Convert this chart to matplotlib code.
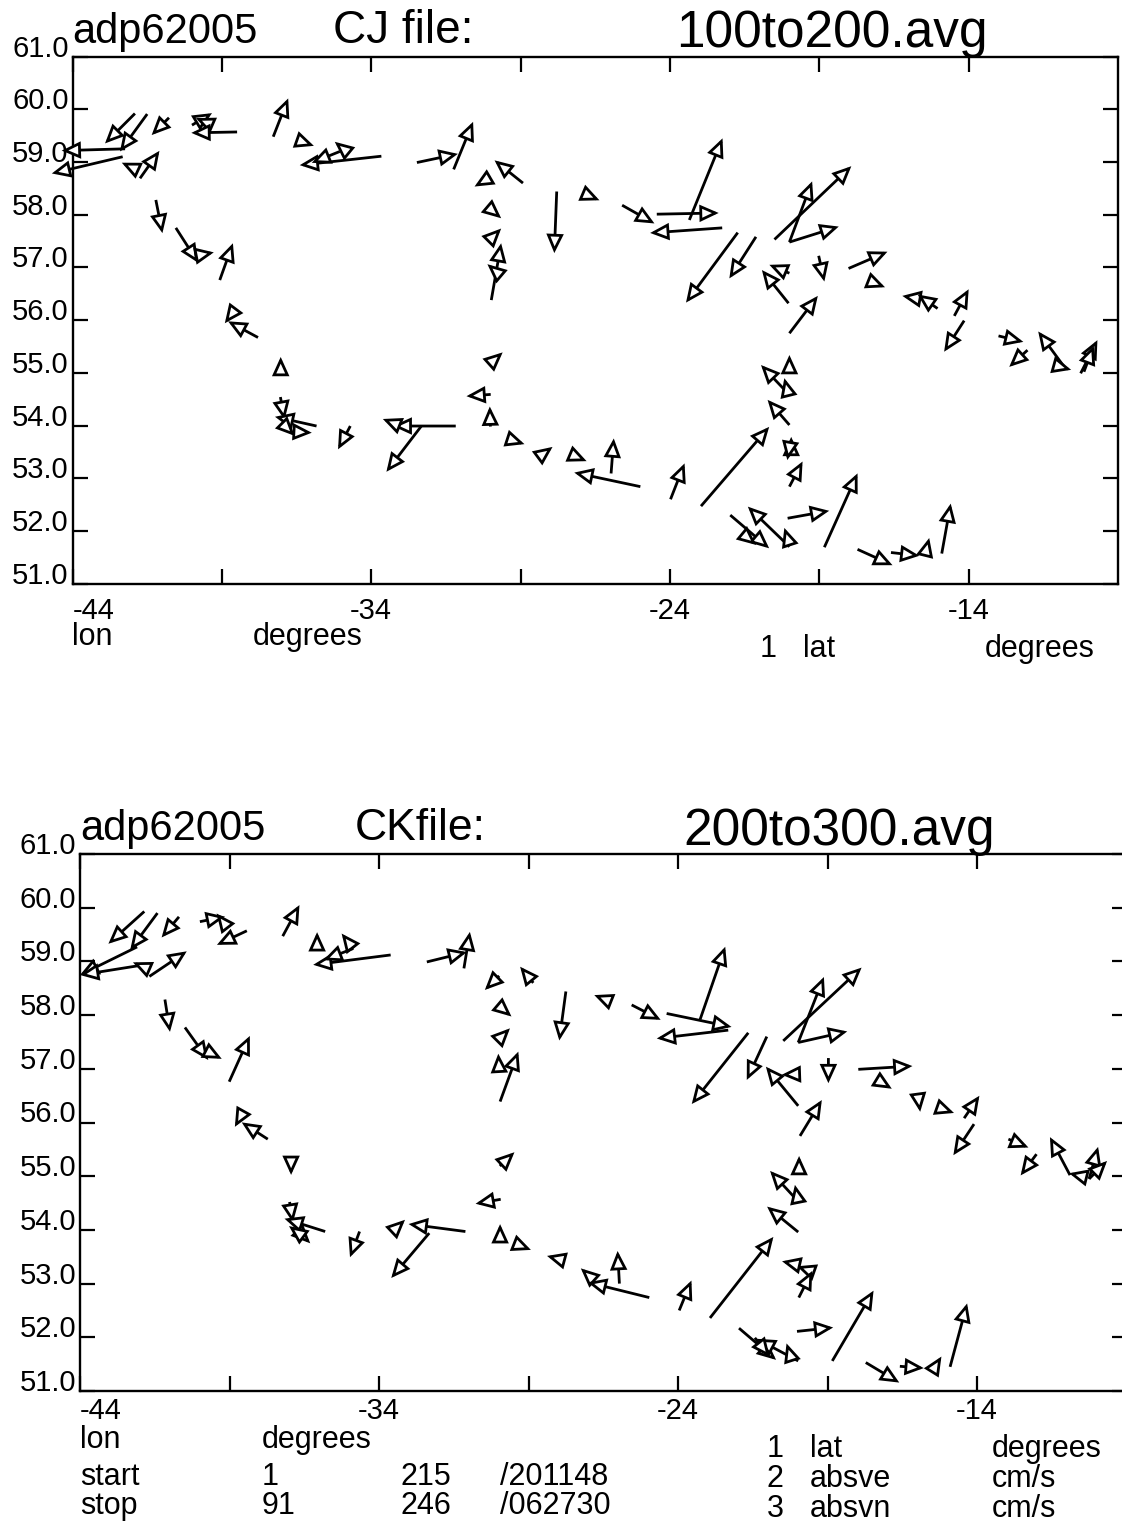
import matplotlib
matplotlib.use("Agg")
import matplotlib.pyplot as plt
from matplotlib.patches import FancyArrowPatch, ArrowStyle
from matplotlib.transforms import ScaledTranslation, blended_transform_factory

plt.rcParams['font.family'] = ['Liberation Sans', 'DejaVu Sans']

W, H, DPI = 1122, 1526, 100

# ---------------- data ----------------
lat_ticks = [51.0, 52.0, 53.0, 54.0, 55.0, 56.0, 57.0, 58.0, 59.0, 60.0, 61.0]
lat_labels = ['51.0', '52.0', '53.0', '54.0', '55.0', '56.0', '57.0', '58.0', '59.0', '60.0', '61.0']
lon_ticks = [-44, -39, -34, -29, -24, -19, -14]
lon_labels = ['-44', '', '-34', '', '-24', '', '-14']
lon_range = (-44.0, -9.0)
lat_range = (51.0, 61.0)

# panel 1: CJ file 100to200.avg  (tail lon, tail lat, east / north velocity in cm/s)
cj_lon = [-41.91, -41.50, -40.77, -40.00, -39.57, -38.49, -37.28, -42.24, -42.32, -41.98,
          -41.74, -41.21, -40.54, -39.68, -39.07, -38.57, -37.79, -36.29, -34.89, -33.66,
          -35.05, -32.47, -31.24, -30.01, -28.92, -30.04, -29.98, -29.98, -29.84, -27.79,
          -26.76, -25.60, -23.35, -24.44, -22.25, -21.73, -21.12, -20.50, -20.00, -20.00,
          -20.00, -20.03, -19.02, -18.02, -17.23, -15.82, -15.04, -20.00, -14.48, -14.15,
          -13.00, -12.03, -10.81, -11.04, -10.25, -10.14, -37.03, -37.04, -35.83, -36.96,
          -36.56, -34.70, -31.17, -33.11, -32.32, -29.97, -30.00, -30.01, -29.27, -28.20,
          -27.19, -24.99, -25.97, -23.98, -22.96, -20.00, -20.00, -20.03, -20.00, -19.94,
          -20.00, -20.00, -21.98, -20.00, -20.04, -21.51, -20.06, -18.83, -17.72, -16.60,
          -15.43, -14.90]
cj_lat = [59.92, 59.91, 59.84, 59.70, 59.76, 59.57, 59.48, 59.25, 59.10, 58.89,
          58.69, 58.28, 57.75, 57.24, 56.76, 56.19, 55.67, 59.38, 59.23, 59.11,
          59.20, 58.99, 58.86, 58.71, 58.60, 58.12, 57.55, 56.38, 56.93, 58.44,
          58.37, 58.18, 57.90, 58.01, 57.75, 57.66, 57.58, 57.53, 57.48, 57.48,
          56.89, 56.32, 57.22, 56.98, 56.72, 56.42, 56.22, 55.75, 56.08, 55.99,
          55.70, 55.43, 55.12, 55.13, 54.99, 55.02, 55.13, 54.54, 53.99, 54.03,
          53.88, 53.99, 53.99, 54.01, 53.99, 55.20, 54.59, 53.98, 53.72, 53.48,
          53.42, 52.84, 53.09, 52.60, 52.47, 55.15, 54.58, 54.58, 54.01, 53.54,
          53.57, 52.84, 52.30, 51.70, 51.83, 51.92, 52.24, 51.69, 51.65, 51.59,
          51.61, 51.57]
cj_ve = [-10.0, -9.1, -5.8, 6.7, -3.0, -15.3, 5.0, -21.2, -23.7, -3.7,
         6.5, 2.2, 7.5, 4.1, 4.4, -3.3, -10.0, 3.7, -3.3, -27.3,
         -9.4, 13.7, 6.5, -5.3, -9.5, 3.9, 3.3, 3.3, -2.7, -0.8,
         4.0, 10.8, 11.1, 20.7, -24.1, -17.3, -8.9, 25.7, 7.6, 16.5,
         -6.7, -8.9, 1.9, 13.0, 4.3, -4.0, -6.7, 9.5, 4.8, -6.7,
         8.3, -6.1, -8.6, 4.7, 5.6, 3.3, 0.0, 1.4, -13.9, 4.0,
         5.7, -4.1, -21.1, -5.0, -11.7, 3.7, -8.1, -0.2, 4.0, 2.7,
         4.0, -22.1, 0.9, 4.7, 22.8, 0.0, -9.5, -1.4, -7.3, 0.0,
         -0.7, 4.4, 13.0, -13.9, -1.3, 4.0, 13.9, 11.1, 11.7, 9.5,
         1.1, 3.0]
cj_vn = [-10.0, -12.5, -5.8, 4.0, 1.3, -0.3, 12.8, -0.6, -5.6, 1.7,
         9.2, -11.1, -11.7, 0.8, 12.3, -4.4, 5.4, -1.3, 2.7, -3.0,
         -3.8, 2.9, 15.9, -3.1, 7.6, -3.3, 3.3, 19.0, 2.3, -20.6,
         -1.7, -6.1, 27.3, 0.4, -1.7, -23.4, -13.9, 24.5, 20.3, 5.2,
         2.8, 11.1, -8.6, 5.6, -1.7, 0.7, 4.7, 12.5, 8.9, -10.4,
         -2.0, -5.6, 11.7, -1.3, 11.1, 8.7, 3.0, -7.6, 3.1, -4.0,
         -0.3, -7.8, 0.0, 2.0, -15.3, 3.3, -0.6, 6.7, -1.3, 2.0,
         -1.7, 4.7, 11.7, 12.0, 26.5, 3.3, 10.0, 5.6, 8.4, 4.3,
         -4.0, 8.4, -11.1, 13.4, 4.0, -3.3, 2.5, 24.7, -5.3, -1.1,
         4.5, 16.7]

# panel 2: CK file 200to300.avg
ck_lon = [-41.85, -41.41, -40.69, -39.99, -39.26, -38.42, -37.22, -36.07, -34.86, -33.61,
          -34.86, -42.09, -41.93, -41.93, -41.68, -41.16, -40.49, -39.59, -39.01, -38.52,
          -37.72, -36.94, -36.99, -35.80, -36.82, -36.74, -34.65, -31.11, -33.47, -32.32,
          -29.93, -29.96, -29.95, -29.25, -28.01, -26.88, -25.96, -24.96, -23.96, -22.93,
          -21.96, -19.98, -21.43, -20.25, -20.02, -18.84, -17.72, -16.58, -15.37, -14.90,
          -19.98, -19.65, -20.09, -19.96, -19.98, -19.99, -19.95, -20.48, -19.98, -19.98,
          -21.03, -19.98, -19.94, -18.97, -17.97, -17.18, -15.96, -15.14, -14.43, -14.10,
          -19.92, -12.95, -12.01, -10.89, -10.52, -10.25, -10.25, -32.40, -31.16, -29.98,
          -28.84, -29.90, -29.95, -29.98, -29.95, -27.75, -26.47, -25.55, -24.38, -23.26,
          -22.32, -21.65]
ck_lat = [59.93, 59.90, 59.83, 59.74, 59.77, 59.57, 59.47, 59.36, 59.24, 59.12,
          59.24, 59.27, 58.93, 58.91, 58.72, 58.29, 57.77, 57.28, 56.76, 56.22,
          55.69, 55.23, 54.52, 53.97, 54.04, 53.96, 53.97, 53.97, 54.01, 53.94,
          54.57, 55.19, 53.94, 53.70, 53.46, 53.10, 53.00, 52.74, 52.50, 52.36,
          52.17, 51.56, 51.99, 51.68, 52.11, 51.56, 51.53, 51.46, 51.48, 51.45,
          53.96, 53.25, 53.36, 52.74, 54.53, 54.56, 55.17, 57.52, 57.49, 57.49,
          57.60, 56.31, 56.90, 57.20, 56.99, 56.74, 56.45, 56.25, 56.08, 55.97,
          55.75, 55.69, 55.41, 55.02, 55.00, 54.95, 54.95, 58.99, 58.87, 58.73,
          58.60, 58.13, 57.57, 56.98, 56.39, 58.44, 58.30, 58.19, 58.03, 57.92,
          57.72, 57.67]
ck_ve = [-12.0, -9.1, -5.8, 8.4, -1.7, -10.0, 5.6, 0.0, -3.9, -25.9,
         -10.0, -19.1, -20.7, -3.0, 12.5, 1.7, 7.8, 3.3, 6.9, -3.0,
         -8.7, 0.0, 1.1, -13.6, 5.2, -2.7, -3.2, -19.0, 3.4, -12.7,
         -8.4, 4.9, 0.0, 3.3, -3.7, -3.7, -0.6, -20.6, 4.1, 21.2,
         12.4, -13.9, 5.0, -1.2, 12.1, 13.8, 11.2, 8.0, 1.8, 5.7,
         -10.4, -3.7, -4.3, 4.5, -9.4, -1.0, 0.0, 26.2, 8.6, 16.4,
         -6.7, -10.8, -5.9, 0.0, 18.1, 3.3, 0.6, 3.7, 5.1, -6.9,
         7.3, 6.7, -5.3, -6.7, -4.0, 3.0, 6.0, 13.4, 2.0, -4.8,
         -4.4, 3.3, 3.3, -0.3, 6.1, -2.2, -3.3, 9.7, 21.7, 8.4,
         -23.9, -18.9]
ck_vn = [-10.8, -12.3, -6.9, 1.7, 2.2, -4.7, 10.4, 3.3, 5.0, -3.3,
         -3.9, -9.4, -3.3, 1.3, 8.4, -10.8, -10.9, -1.7, 15.3, -5.4,
         5.6, -3.7, -6.9, 4.3, -5.2, 2.0, -8.6, 2.5, 3.2, -15.0,
         -1.5, 4.6, 3.0, -1.3, 1.0, 3.3, 10.9, 5.1, 10.0, 27.1,
         -10.6, 7.4, -6.4, 3.7, 1.3, 23.5, -6.7, -0.6, 2.9, 21.2,
         8.5, 1.3, 1.0, 8.9, 10.2, 5.0, 3.7, 24.5, 21.9, 3.7,
         -14.5, 13.1, -0.2, -8.4, 1.1, -2.0, -4.5, -1.3, 7.5, -10.4,
         12.0, -2.8, -7.1, 12.7, 1.0, 10.7, 6.0, 3.3, 12.2, -4.7,
         5.4, -2.8, 3.3, 5.4, 16.7, -16.4, 1.3, -5.0, -4.5, 24.3,
         -2.8, -23.8]

# ---------------- style ----------------
PX_PER_CMS = 2.99          # arrow length scale: pixels per cm/s
TICK_FS = 21
LABEL_FS = 22

fig = plt.figure(figsize=(W / DPI, H / DPI), dpi=DPI)


def fpos(x, y):
    return x / W, 1 - y / H


def make_panel(left, top, right, bottom, xlab_drop):
    ax = fig.add_axes([left / W, 1 - bottom / H, (right - left) / W, (bottom - top) / H])
    ax.set_xlim(*lon_range)
    ax.set_ylim(*lat_range)
    ax.set_autoscale_on(False)
    ax.set_xticks(lon_ticks)
    ax.set_yticks(lat_ticks)
    ax.set_xticklabels([])
    ax.set_yticklabels([])
    ax.tick_params(direction='in', length=11, width=1.6, top=True, right=True,
                   labelbottom=False, labelleft=False)
    for s in ax.spines.values():
        s.set_linewidth(1.7)
    # y labels (slightly above the tick)
    ytr = blended_transform_factory(ax.transAxes, ax.transData) + \
        ScaledTranslation(-4 / DPI, 8 / DPI, fig.dpi_scale_trans)
    for v, t in zip(lat_ticks, lat_labels):
        ax.text(0, v, t, transform=ytr, ha='right', va='center', fontsize=TICK_FS, clip_on=False)
    xtr = blended_transform_factory(ax.transData, ax.transAxes) + \
        ScaledTranslation(0, -xlab_drop / DPI, fig.dpi_scale_trans)
    for i, (v, t) in enumerate(zip(lon_ticks, lon_labels)):
        if t:
            ax.text(v, 0, t, transform=xtr, ha='left' if i == 0 else 'center', va='baseline',
                    fontsize=TICK_FS, clip_on=False)
    return ax


def draw_arrows(ax, lon, lat, ve, vn):
    pos = ax.get_position()
    x0, x1 = ax.get_xlim()
    y0, y1 = ax.get_ylim()
    kx = PX_PER_CMS / (pos.width * W / (x1 - x0))
    ky = PX_PER_CMS / (pos.height * H / (y1 - y0))
    style = ArrowStyle('-|>', head_length=0.55, head_width=0.25)
    for lo, la, u, v in zip(lon, lat, ve, vn):
        a = FancyArrowPatch((lo, la), (lo + u * kx, la + v * ky), arrowstyle=style,
                            mutation_scale=19, lw=2.0, ec='black', fc='white',
                            joinstyle='miter', capstyle='butt',
                            shrinkA=0, shrinkB=0, clip_on=False, zorder=3)
        ax.add_patch(a)


# ---------------- panel 1 ----------------
ax1 = make_panel(72.5, 56.6, 1118, 583.6, 35)
draw_arrows(ax1, cj_lon, cj_lat, cj_ve, cj_vn)
fig.text(*fpos(72, 43), 'adp62005', fontsize=30, va='baseline')
fig.text(*fpos(333, 43), 'CJ file:', fontsize=33, va='baseline')
fig.text(*fpos(676, 47), '100to200.avg', fontsize=37, va='baseline')
for x, t in [(72, 'lon'), (253, 'degrees')]:
    fig.text(*fpos(x, 645), t, fontsize=LABEL_FS, va='baseline')
for x, t in [(760, '1'), (803, 'lat'), (985, 'degrees')]:
    fig.text(*fpos(x, 657), t, fontsize=LABEL_FS, va='baseline')

# ---------------- panel 2 ----------------
ax2 = make_panel(80, 854, 1126.5, 1391, 28)
draw_arrows(ax2, ck_lon, ck_lat, ck_ve, ck_vn)
fig.text(*fpos(80, 840), 'adp62005', fontsize=30, va='baseline')
fig.text(*fpos(355, 840), 'CKfile:', fontsize=32, va='baseline')
fig.text(*fpos(683, 845), '200to300.avg', fontsize=37, va='baseline')
rows_left = [(1448, ['lon', 'degrees', '', '']),
             (1485, ['start', '1', '215', '/201148']),
             (1514, ['stop', '91', '246', '/062730'])]
for y, items in rows_left:
    for x, t in zip([80, 262, 400, 500], items):
        if t:
            fig.text(*fpos(x, y), t, fontsize=LABEL_FS, va='baseline')
rows_right = [(1457, ['1', 'lat', 'degrees']),
              (1487, ['2', 'absve', 'cm/s']),
              (1517, ['3', 'absvn', 'cm/s'])]
for y, items in rows_right:
    for x, t in zip([767, 810, 992], items):
        fig.text(*fpos(x, y), t, fontsize=LABEL_FS, va='baseline')

fig.savefig('out.png', dpi=DPI, facecolor='white')
